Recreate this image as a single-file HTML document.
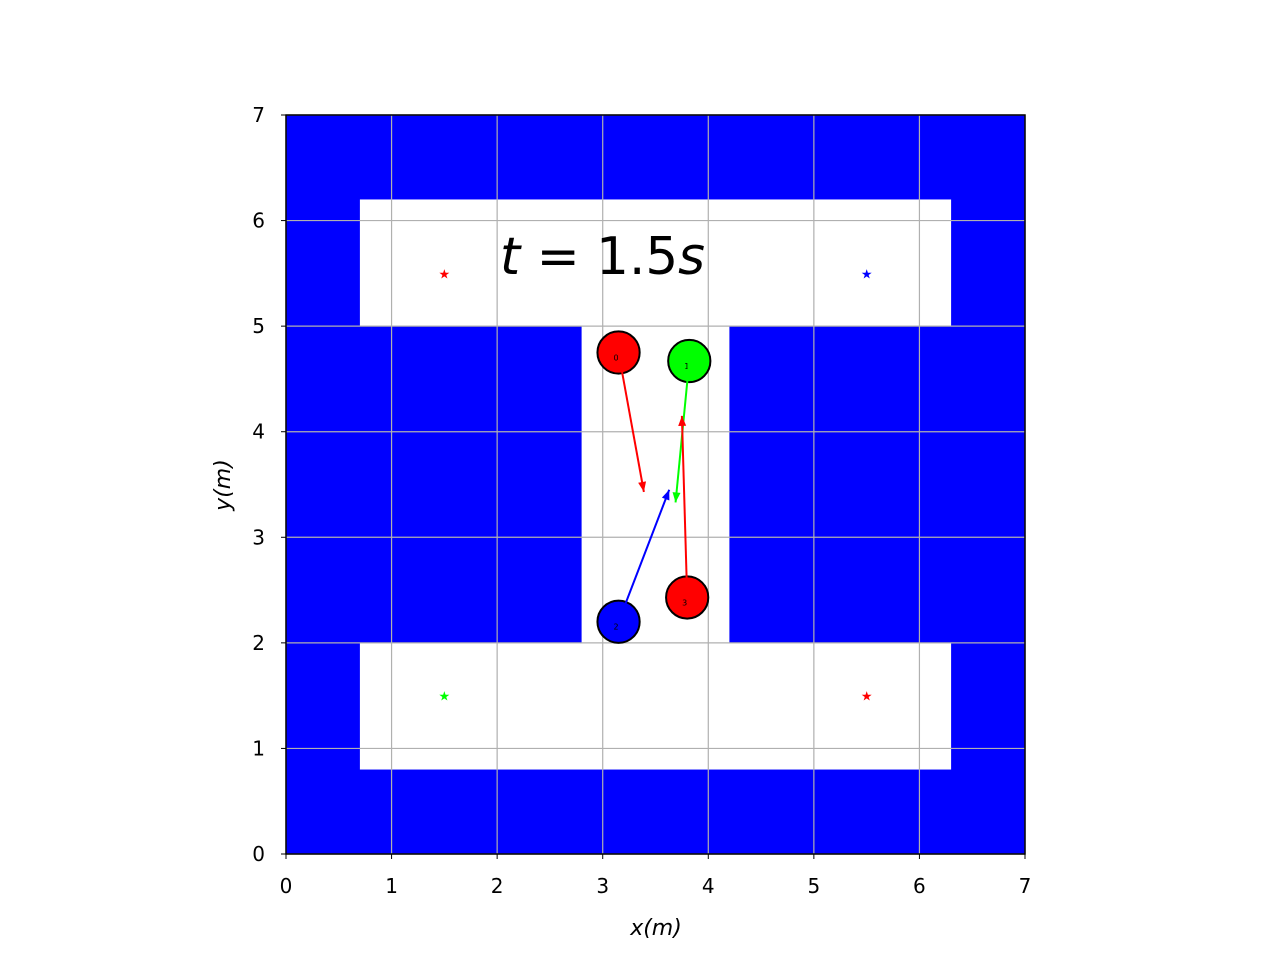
<!DOCTYPE html>
<html><head><meta charset="utf-8"><style>body{margin:0;background:#fff}svg{display:block}</style></head>
<body>
<svg id="chart" width="1280" height="960" xmlns="http://www.w3.org/2000/svg" font-family="'DejaVu Sans','Liberation Sans',sans-serif">
<rect width="1280" height="960" fill="#fff"/>
<g id="g"></g>
</svg>
<script>
const ticks=[0,1,2,3,4,5,6,7];
const freeRects=[[0.7,5,6.3,6.2],[0.7,0.8,6.3,2],[2.8,2,4.2,5]];
const robotIds=[0,1,2,3];
const robotX=[3.15,3.82,3.15,3.8];
const robotY=[4.75,4.67,2.2,2.43];
const robotColors=['#ff0000','#00ff00','#0000ff','#ff0000'];
const arrowX=[3.39,3.69,3.63,3.75];
const arrowY=[3.43,3.33,3.45,4.15];
const goalX=[1.5,5.5,1.5,5.5];
const goalY=[5.5,5.5,1.5,1.5];
const goalColors=['#ff0000','#0000ff','#00ff00','#ff0000'];
const robotR=0.2;
const X0=286,X1=1025,Y0=854,Y1=115;
const sx=v=>X0+(X1-X0)*v/7, sy=v=>Y0-(Y0-Y1)*v/7;
const NS='http://www.w3.org/2000/svg';
const g=document.getElementById('g');
function mk(t,a,p){const e=document.createElementNS(NS,t);for(const k in a)e.setAttribute(k,a[k]);(p||g).appendChild(e);return e;}
let e=mk('rect',{x:X0,y:Y1,width:X1-X0,height:Y0-Y1,fill:'#0000ff'});


freeRects.forEach((r,i)=>{const el=mk('rect',{x:sx(r[0]),y:sy(r[3]),width:sx(r[2])-sx(r[0]),height:sy(r[1])-sy(r[3]),fill:'#fff'});

});
ticks.forEach(t=>{
 const gl=mk('line',{x1:sx(t),x2:sx(t),y1:Y0,y2:Y1,stroke:'#b0b0b0','stroke-width':1.2});
 
 
 const hl=mk('line',{x1:X0,x2:X1,y1:sy(t),y2:sy(t),stroke:'#b0b0b0','stroke-width':1.2});
 
 
 mk('line',{x1:sx(t),x2:sx(t),y1:Y0,y2:Y0+5,stroke:'#000'});
 mk('line',{x1:X0,x2:X0-5,y1:sy(t),y2:sy(t),stroke:'#000'});
 const xl=mk('text',{x:sx(t),y:Y0+39,'text-anchor':'middle','font-size':20});xl.textContent=t;
 
 
 const yl=mk('text',{x:X0-21,y:sy(t)+7,'text-anchor':'end','font-size':20});yl.textContent=t;
 
 
});
goalX.forEach((gx,i)=>{const s=mk('text',{x:sx(gx),y:sy(goalY[i])+5,'text-anchor':'middle','font-size':13,fill:goalColors[i]});s.textContent='★';

});
robotIds.forEach(i=>{
 const c=mk('circle',{cx:sx(robotX[i]),cy:sy(robotY[i]),r:(sx(robotR)-sx(0)),fill:robotColors[i],stroke:'#000','stroke-width':2});
 
 
 const t=mk('text',{x:sx(robotX[i])-5,y:sy(robotY[i])+8,'font-size':8});t.textContent=i;
});
robotIds.forEach(i=>{
 const x1=sx(robotX[i]),y1=sy(robotY[i]),x2=sx(arrowX[i]),y2=sy(arrowY[i]);
 const l=mk('line',{x1,y1,x2,y2,stroke:robotColors[i],'stroke-width':2});
 
 
 const a=Math.atan2(y2-y1,x2-x1),L=10,W=4;
 const bx=x2-L*Math.cos(a),by=y2-L*Math.sin(a);
 mk('polygon',{points:`${x2},${y2} ${bx-W*Math.sin(a)},${by+W*Math.cos(a)} ${bx+W*Math.sin(a)},${by-W*Math.cos(a)}`,fill:robotColors[i]});
});
mk('rect',{x:X0,y:Y1,width:X1-X0,height:Y0-Y1,fill:'none',stroke:'#000','stroke-width':1.5});
let tt=mk('text',{x:500,y:274,'font-size':52,textLength:205,lengthAdjust:'spacingAndGlyphs'});tt.innerHTML='<tspan font-style="italic">t</tspan> = 1.5<tspan font-style="italic">s</tspan>';


let xt=mk('text',{x:656,y:935,'text-anchor':'middle','font-size':22,'font-style':'italic'});xt.textContent='x(m)';


let yt=mk('text',{x:0,y:0,'text-anchor':'middle','font-size':22,'font-style':'italic',transform:'translate(230,485) rotate(-90)'});yt.textContent='y(m)';


</script>
</body></html>
